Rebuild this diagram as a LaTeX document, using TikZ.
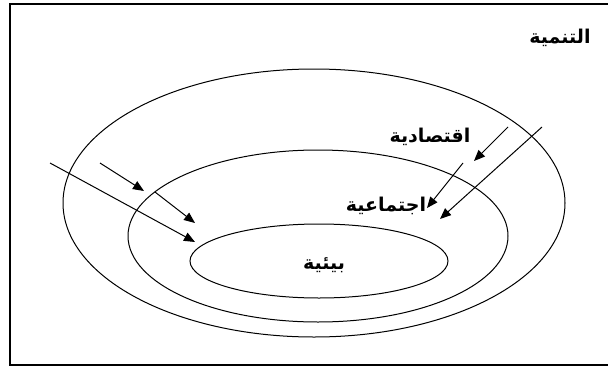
\documentclass[tikz,border=0pt]{standalone}
\usepackage{fontspec}
\newfontfamily\arabicfont[Script=Arabic,BoldFont={DejaVu Sans Bold}]{DejaVu Sans}
\TeXXeTstate=1
\usetikzlibrary{shapes.geometric,arrows.meta}
\begin{document}
\begin{tikzpicture}[x=1pt,y=-1pt,
  ring/.style={ellipse,draw,line width=1pt,inner sep=0pt},
  lbl/.style={font=\arabicfont\bfseries\fontsize{19}{21}\selectfont,inner sep=1pt},
  arr/.style={line width=1pt,-{Triangle[length=11pt,width=9pt]}}]
\useasboundingbox (0,0) rectangle (608,367);
\clip (0,0) rectangle (608,367);
\fill[white] (0,0) rectangle (608,367);
\draw[line width=2pt] (620,4) -- (10,4) -- (10,365) -- (620,365);
\node[ring,minimum width=502pt,minimum height=268pt] (outer) at (314,203) {};
\node[ring,minimum width=380pt,minimum height=172pt] (middle) at (318,236) {};
\node[ring,minimum width=258pt,minimum height=74pt] (inner) at (319,261) {};
\node[lbl] (t1) at (560,38) {\beginR التنمية\endR};
\node[lbl] (t2) at (430,137) {\beginR اقتصادية\endR};
\node[lbl] (t3) at (386,206) {\beginR اجتماعية\endR};
\node[lbl] (t4) at (324,265) {\beginR بيئية\endR};
\coordinate (a1s) at (50,163); \coordinate (a1e) at (195,242);
\coordinate (a2s) at (100,163); \coordinate (a2e) at (144,191);
\coordinate (a3s) at (155,192); \coordinate (a3e) at (195,223);
\coordinate (b1s) at (508,127); \coordinate (b1e) at (474,161);
\coordinate (b2s) at (542,127); \coordinate (b2e) at (440,219);
\coordinate (b3s) at (463,163); \coordinate (b3e) at (427,208);
\draw[arr] (a1s) -- (a1e);
\draw[arr] (a2s) -- (a2e);
\draw[arr] (a3s) -- (a3e);
\draw[arr] (b1s) -- (b1e);
\draw[arr] (b2s) -- (b2e);
\draw[arr] (b3s) -- (b3e);
\end{tikzpicture}
\end{document}
